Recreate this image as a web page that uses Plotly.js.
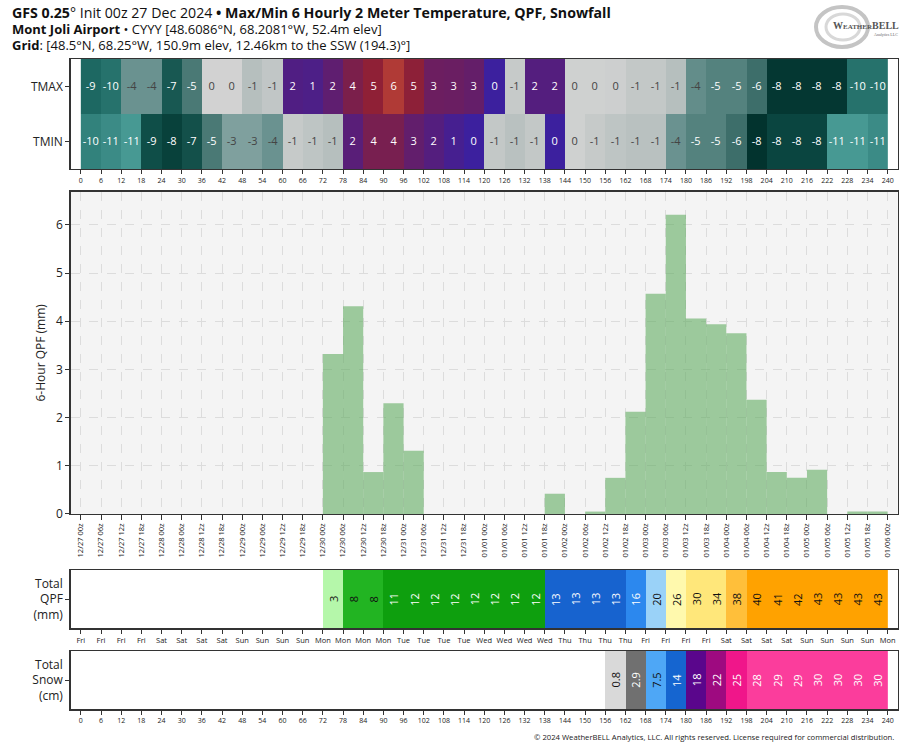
<!DOCTYPE html>
<html><head><meta charset="utf-8">
<script src="https://cdn.plot.ly/plotly-3.0.1.min.js"></script>
<style>html,body{margin:0;padding:0;background:#fff}#chart{width:914px;height:750px}</style>
</head><body><div id="chart"></div>
<script>
// Forecast hour ticks (period edges)
const hours = [0,6,12,18,24,30,36,42,48,54,60,66,72,78,84,90,96,102,108,114,120,126,132,138,144,150,156,162,168,174,180,186,192,198,204,210,216,222,228,234,240];
const dateLabels = ['12/27 00z','12/27 06z','12/27 12z','12/27 18z','12/28 00z','12/28 06z','12/28 12z','12/28 18z',
  '12/29 00z','12/29 06z','12/29 12z','12/29 18z','12/30 00z','12/30 06z','12/30 12z','12/30 18z',
  '12/31 00z','12/31 06z','12/31 12z','12/31 18z','01/01 00z','01/01 06z','01/01 12z','01/01 18z',
  '01/02 00z','01/02 06z','01/02 12z','01/02 18z','01/03 00z','01/03 06z','01/03 12z','01/03 18z',
  '01/04 00z','01/04 06z','01/04 12z','01/04 18z','01/05 00z','01/05 06z','01/05 12z','01/05 18z','01/06 00z'];
const dayLabels = ['Fri','Fri','Fri','Fri','Sat','Sat','Sat','Sat','Sun','Sun','Sun','Sun','Mon','Mon','Mon','Mon',
  'Tue','Tue','Tue','Tue','Wed','Wed','Wed','Wed','Thu','Thu','Thu','Thu','Fri','Fri','Fri','Fri',
  'Sat','Sat','Sat','Sat','Sun','Sun','Sun','Sun','Mon'];
// 6-hourly max / min 2 m temperature (°C), one value per 6-hour period
const tmax = [-9.3,-9.7,-4.0,-4.0,-7.1,-5.4,-0.1,-0.1,-1.2,-0.8,1.6,1.4,2.4,4.0,5.0,6.0,4.9,3.1,3.0,2.7,
  0.2,-0.6,1.8,1.8,-0.2,-0.2,-0.3,-0.7,-0.7,-1.2,-4.3,-4.9,-4.9,-6.0,-8.1,-8.1,-8.1,-8.1,-9.7,-9.7];
const tmin = [-10.3,-10.7,-11.4,-8.6,-8.3,-7.3,-5.4,-3.0,-3.0,-4.0,-0.6,-0.9,-1.2,2.1,3.8,3.8,2.6,1.8,1.0,0.2,
  -0.7,-1.1,-0.7,0.2,-0.2,-0.6,-0.9,-1.1,-1.1,-4.0,-4.9,-4.9,-6.0,-8.0,-8.4,-8.4,-8.4,-11.4,-11.4,-10.7];
// 6-hour QPF (mm)
const qpf6h = [0,0,0,0,0,0,0,0,0,0,0,0,3.32,4.31,0.87,2.30,1.31,0,0,0,
  0,0,0,0.42,0,0.05,0.75,2.12,4.57,6.21,4.06,3.94,3.75,2.37,0.87,0.75,0.92,0,0.05,0.05];
// Accumulated QPF (mm) and snowfall (cm)
const totalQpf = [0,0,0,0,0,0,0,0,0,0,0,0,3,8,8,11,12,12,12,12,
  12,12,12,13,13,13,13,16,20,26,30,34,38,40,41,42,43,43,43,43];
const totalSnow = [0,0,0,0,0,0,0,0,0,0,0,0,0,0,0,0,0,0,0,0,
  0,0,0,0,0,0,0.8,2.9,7.5,14,18,22,25,28,29,29,30,30,30,30];
const tempRows = ['TMIN','TMAX'];

// ---- styles ----
const tempStops = [[-12,'#50a29c'],[-11,'#41938d'],[-10,'#2c7a74'],[-9,'#17605a'],[-8,'#02332e'],[-7,'#1a5c56'],
  [-6,'#3d6e6a'],[-5,'#52807c'],[-4,'#6a9290'],[-3,'#7fa09e'],[-2,'#a0b1af'],[-1,'#bcc3c2'],[-0.001,'#d4d4d4'],
  [0,'#3a20a2'],[1,'#461f90'],[2,'#571e7a'],[3,'#6a1e62'],[4,'#7b1f4b'],[5,'#8f2036'],[6,'#b03a36'],[7,'#c8503c']];
const tMin = -12, tMaxV = 7;
const tempScale = tempStops.map(s => [(s[0]-tMin)/(tMaxV-tMin), s[1]]);

const qpfEdges = [0,0.01,5,10,12.6,15,19,25,28,36,39,60];
const qpfColors = ['#ffffff','#b5f7aa','#22b422','#0e9f0e','#1763cf','#2c88ee','#9ad2f8','#fff9ad','#ffe77a','#ffbf3a','#ffa200'];
const snowEdges = [0,0.01,2,5,10,15,20,24,27,60];
const snowColors = ['#ffffff','#d9d9d9','#707070','#4ea7f6','#1565d0','#5a068c','#9e0a80','#f0168a','#fb3d9c'];

function stepped(edges, colors){
  const lo = edges[0], hi = edges[edges.length-1], out = [];
  colors.forEach((c,i)=>{ out.push([(edges[i]-lo)/(hi-lo), c]); out.push([(edges[i+1]-lo)/(hi-lo), c]); });
  return out;
}
function binColor(v, edges, colors){
  for(let i=0;i<colors.length;i++){ if(v>=edges[i] && v<edges[i+1]) return colors[i]; }
  return colors[colors.length-1];
}
function textColor(hex){
  const c=[1,3,5].map(i=>parseInt(hex.substr(i,2),16)/255).map(v=> v<=0.03928? v/12.92 : Math.pow((v+0.055)/1.055,2.4));
  const L = 0.2126*c[0]+0.7152*c[1]+0.0722*c[2];
  return L > 0.3 ? '#111111' : '#ffffff';
}
const fmtT = v => String(Math.round(v) || 0);

const FONT = 'Open Sans, Noto Sans, sans-serif';
const xDom = [0.0774, 0.9822];
const yDoms = [[0.7747,0.9213],[0.3147,0.7444],[0.1623,0.2400],[0.0543,0.1320]];
const lineC = '#333333';

const traces = [
  { type:'heatmap', x: hours, y: tempRows, z: [tmin, tmax],
    text: [tmin.map(fmtT), tmax.map(fmtT)], texttemplate:'%{text}', textfont:{size:11, family:FONT},
    colorscale: tempScale, zmin: tMin, zmax: tMaxV, showscale:false, hoverinfo:'skip', xaxis:'x', yaxis:'y' },
  { type:'bar', x: hours.slice(0,40), y: qpf6h, offset:0, width:6,
    marker:{color:'rgba(96,172,96,0.6)', line:{width:0}}, hoverinfo:'skip', xaxis:'x2', yaxis:'y2' },
  { type:'heatmap', x: hours, y: ['Total<br>QPF<br>(mm)'], z:[totalQpf],
    colorscale: stepped(qpfEdges, qpfColors), zmin:qpfEdges[0], zmax:qpfEdges[qpfEdges.length-1],
    showscale:false, hoverinfo:'skip', xaxis:'x3', yaxis:'y3' },
  { type:'heatmap', x: hours, y: ['Total<br>Snow<br>(cm)'], z:[totalSnow],
    colorscale: stepped(snowEdges, snowColors), zmin:snowEdges[0], zmax:snowEdges[snowEdges.length-1],
    showscale:false, hoverinfo:'skip', xaxis:'x4', yaxis:'y4' }
];

const annotations = [];
totalQpf.forEach((v,i)=>{ if(v>0) annotations.push({x:hours[i]+3, y:0, xref:'x3', yref:'y3', text:String(v),
  textangle:-90, showarrow:false, font:{size:11, family:FONT, color:textColor(binColor(v,qpfEdges,qpfColors))}}); });
totalSnow.forEach((v,i)=>{ if(v>0) annotations.push({x:hours[i]+3, y:0, xref:'x4', yref:'y4', text:String(v),
  textangle:-90, showarrow:false, font:{size:11, family:FONT, color:textColor(binColor(v,snowEdges,snowColors))}}); });

const titleText =
  '<span style="font-size:14.2px"><b>GFS 0.25</b>° Init 00z 27 Dec 2024 <b>•</b> <b>Max/Min 6 Hourly 2 Meter Temperature, QPF, Snowfall</b></span><br>' +
  '<span style="font-size:13px"><b>Mont Joli Airport</b> • CYYY [48.6086°N, 68.2081°W, 52.4m elev]</span><br>' +
  '<span style="font-size:13px"><b>Grid</b>: [48.5°N, 68.25°W, 150.9m elev, 12.46km to the SSW (194.3)°]</span>';
annotations.push({xref:'paper', yref:'paper', x:10/914, y:1-29/750, xanchor:'left', yanchor:'middle', text:titleText,
  showarrow:false, align:'left', font:{size:12.3, family:FONT, color:'#111'}});
annotations.push({xref:'paper', yref:'paper', x:896/914, y:1-737/750, xanchor:'right', yanchor:'middle', showarrow:false,
  text:'© 2024 WeatherBELL Analytics, LLC. All rights reserved. License required for commercial distribution.',
  font:{size:7.7, family:FONT, color:'#222'}});
annotations.push({xref:'paper', yref:'paper', x:866/914, y:1-26/750, xanchor:'center', yanchor:'middle', showarrow:false,
  text:'<b>W<span style="font-size:7px">EATHER</span>BELL</b>', font:{size:10, family:'Liberation Serif, serif', color:'#555'}});
annotations.push({xref:'paper', yref:'paper', x:886/914, y:1-34/750, xanchor:'center', yanchor:'middle', showarrow:false,
  text:'Analytics LLC', font:{size:4, family:'Liberation Serif, serif', color:'#666'}});

const shapes = [
  {type:'rect', xref:'x2 domain', yref:'y2 domain', x0:0, x1:1, y0:0, y1:1, fillcolor:'#f4f4f4', line:{width:0}, layer:'below'},
  {type:'circle', xref:'paper', yref:'paper', x0:816/914, x1:868/914, y0:1-47/750, y1:1-7/750, line:{color:'#c4c4c4', width:4}, fillcolor:'rgba(0,0,0,0)', layer:'below'},
  {type:'circle', xref:'paper', yref:'paper', x0:826/914, x1:860/914, y0:1-40/750, y1:1-14/750, line:{color:'#d8d8d8', width:3}, fillcolor:'rgba(0,0,0,0)', layer:'below'}
];

function xAxis(i, ticktext, extra){
  return Object.assign({domain:xDom, range:[-3,243], anchor:'y'+(i===1?'':i), tickmode:'array', tickvals:hours, ticktext:ticktext,
    ticks:'outside', ticklen:4, tickcolor:lineC, tickfont:{size:7, family:FONT, color:'#222'}, showline:true, mirror:true,
    linecolor:lineC, linewidth:1.5, showgrid:false, zeroline:false, fixedrange:true}, extra||{});
}
function yAxis(i, extra){
  return Object.assign({domain:yDoms[i-1], anchor:'x'+(i===1?'':i), ticks:'outside', ticklen:4, tickcolor:lineC,
    tickfont:{size:12, family:FONT, color:'#222'}, showline:true, mirror:true, linecolor:lineC, linewidth:1.5,
    showgrid:false, zeroline:false, fixedrange:true}, extra||{});
}

const layout = {
  width:914, height:750, margin:{l:0,r:0,t:0,b:0}, paper_bgcolor:'#fff', plot_bgcolor:'#fff', showlegend:false,
  font:{family:FONT, color:'#222'},
  xaxis: xAxis(1, hours.map(String)),
  yaxis: yAxis(1, {type:'category', categoryorder:'array', categoryarray:tempRows, range:[-0.5,1.5]}),
  xaxis2: xAxis(2, dateLabels, {tickangle:-90, tickfont:{size:7.5, family:FONT, color:'#222'}, ticklen:5,
    showgrid:true, gridcolor:'#dcdcdc', griddash:'dash', gridwidth:1}),
  yaxis2: yAxis(2, {range:[0,6.69], dtick:1, tick0:0, showgrid:true, gridcolor:'#dcdcdc', griddash:'dash', gridwidth:1,
    title:{text:'6-Hour QPF (mm)', font:{size:12, family:FONT, color:'#222'}, standoff:8}}),
  xaxis3: xAxis(3, dayLabels, {tickfont:{size:7.5, family:FONT, color:'#222'}}),
  yaxis3: yAxis(3, {type:'category'}),
  xaxis4: xAxis(4, hours.map(String)),
  yaxis4: yAxis(4, {type:'category'}),
  annotations: annotations,
  shapes: shapes
};

Plotly.newPlot('chart', traces, layout, {displayModeBar:false, staticPlot:true});
</script></body></html>
